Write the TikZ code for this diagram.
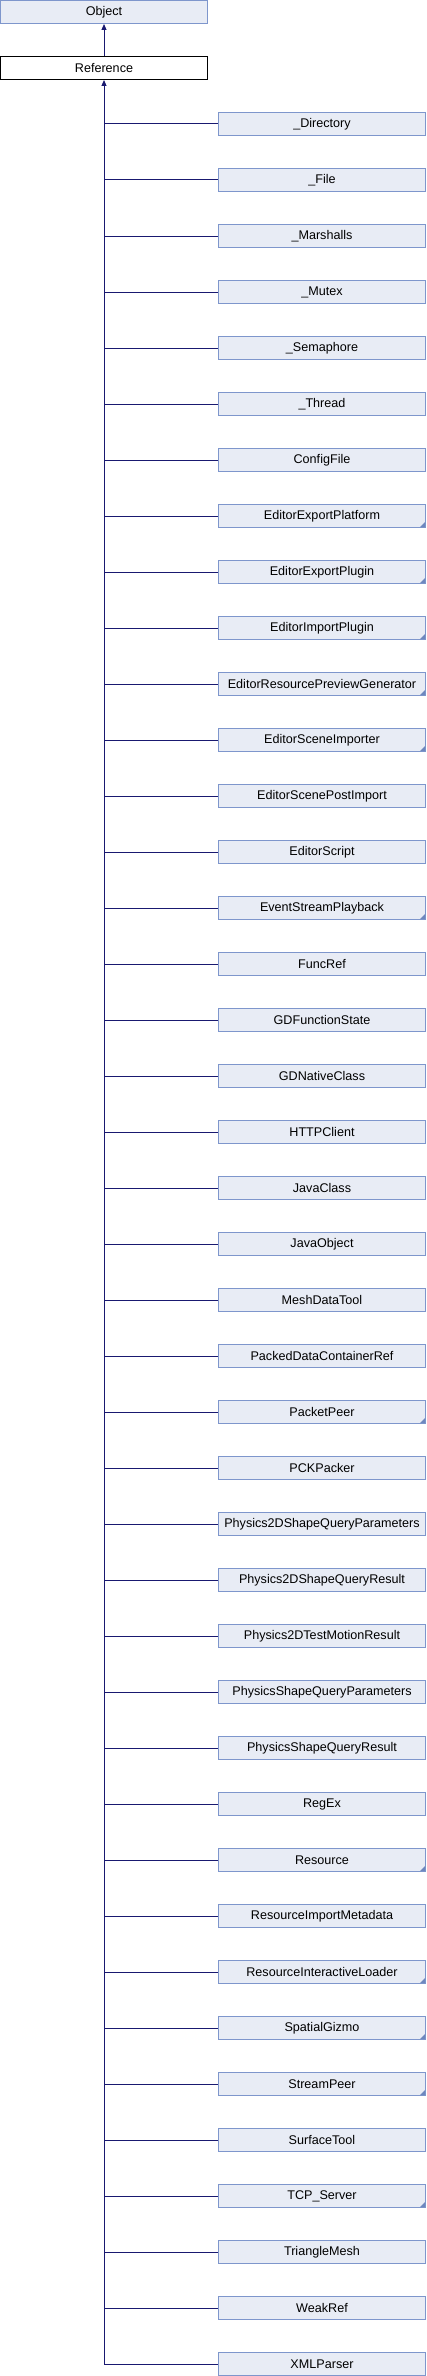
\documentclass[tikz,border=0pt]{standalone}
\usepackage{fontspec}
\setmainfont{Liberation Sans}
\usetikzlibrary{arrows.meta}
\definecolor{edgecol}{RGB}{25,25,112}
\definecolor{boxfill}{RGB}{232,236,245}
\definecolor{boxline}{RGB}{126,150,204}
\definecolor{markcol}{RGB}{110,135,190}
\tikzset{
  classbox/.style={draw=boxline, fill=boxfill, line width=1pt, minimum width=207pt, minimum height=23pt, inner sep=0pt, font=\fontsize{12.6}{14}\selectfont},
  refbox/.style={classbox, draw=black, fill=white},
  edge/.style={draw=edgecol, line width=1pt},
  inh/.style={edge, -{Triangle[width=5pt,length=6pt]}}
}
\begin{document}
\begin{tikzpicture}[x=1pt,y=1pt]
\useasboundingbox (0,0) rectangle (426,-2376);
\node[classbox] (obj) at (104,-12) {Object};
\node[refbox] (ref) at (104,-68) {Reference};
\foreach \name/\mk [count=\i from 0] in {
 \_Directory/0, \_File/0, \_Marshalls/0, \_Mutex/0, \_Semaphore/0, \_Thread/0, ConfigFile/0,
 EditorExportPlatform/1, EditorExportPlugin/1, EditorImportPlugin/1, EditorResourcePreviewGenerator/1,
 EditorSceneImporter/1, EditorScenePostImport/0, EditorScript/0, EventStreamPlayback/1,
 FuncRef/0, GDFunctionState/0, GDNativeClass/0, HTTPClient/0, JavaClass/0, JavaObject/0,
 MeshDataTool/0, PackedDataContainerRef/0, PacketPeer/1, PCKPacker/0,
 Physics2DShapeQueryParameters/0, Physics2DShapeQueryResult/0, Physics2DTestMotionResult/0,
 PhysicsShapeQueryParameters/0, PhysicsShapeQueryResult/0, RegEx/0, Resource/1,
 ResourceImportMetadata/0, ResourceInteractiveLoader/1, SpatialGizmo/1, StreamPeer/1,
 SurfaceTool/0, TCP\_Server/1, TriangleMesh/0, WeakRef/0, XMLParser/0} {
  \node[classbox] (c\i) at (322,-124-56*\i) {\name};
  \ifnum\mk=1
    \fill[markcol] ([xshift=-1pt,yshift=1pt]c\i.south east) -- ++(-5,0) -- ++(5,5) -- cycle;
  \fi
  \draw[edge] (ref.south |- c\i.west) -- (c\i.west);
}
\draw[inh] (ref.south |- c40.west) -- (ref.south);
\draw[inh] (ref.north) -- (obj.south);
\end{tikzpicture}
\end{document}
